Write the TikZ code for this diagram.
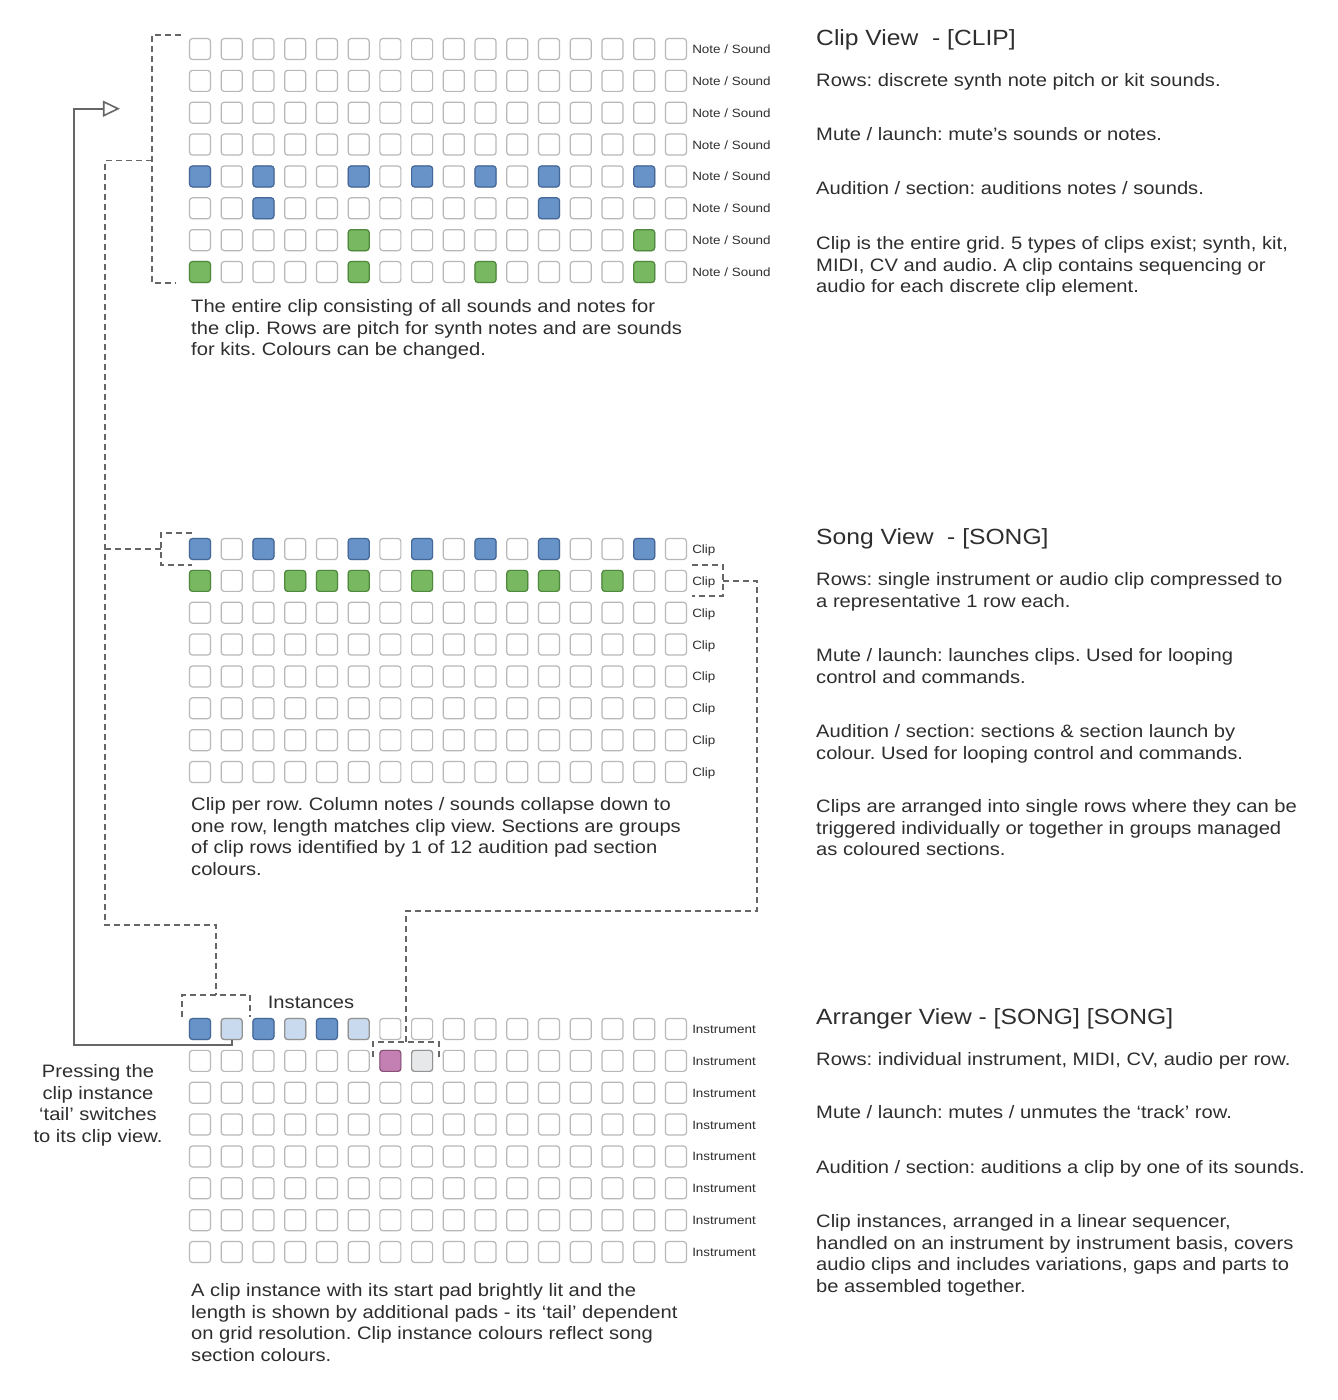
\documentclass[tikz,border=0pt]{standalone}
\usepackage{fontspec}
\setmainfont{Liberation Sans}[FakeStretch=1.12]
\usetikzlibrary{arrows.meta, positioning, calc}
\usepackage{xcolor}
\definecolor{cText}{HTML}{2E2E2E}
\definecolor{cLine}{HTML}{666666}
\definecolor{cPadLine}{HTML}{B8B8B8}
\definecolor{cBlue}{HTML}{6793C9}
\definecolor{cBlueLine}{HTML}{44689A}
\definecolor{cGreen}{HTML}{78B861}
\definecolor{cGreenLine}{HTML}{4F8A3C}
\definecolor{cPale}{HTML}{C9D9EE}
\definecolor{cPink}{HTML}{C47FB3}
\definecolor{cPinkLine}{HTML}{8A5279}
\definecolor{cGrey}{HTML}{E7E8EA}
\frenchspacing

\begin{document}
\begin{tikzpicture}[x=1pt, y=-1pt,
  pad/.style={draw=cPadLine, fill=white, rounded corners=3pt,
    minimum size=21pt, inner sep=0pt, line width=1.2pt},
  padblue/.style={fill=cBlue, draw=cBlueLine},
  padgreen/.style={fill=cGreen, draw=cGreenLine},
  padpale/.style={fill=cPale, draw=cPadLine!80!black},
  padpink/.style={fill=cPink, draw=cPinkLine},
  padgrey/.style={fill=cGrey, draw=cPadLine!80!black},
  rowlbl/.style={inner sep=0pt, font=\fontsize{12}{14}\selectfont,
    text=cText, text height=9pt, text depth=0pt},
  txt/.style={anchor=base west, align=left, inner sep=0pt,
    font=\fontsize{18}{21.6}\selectfont, text=cText},
  head/.style={anchor=base west, inner sep=0pt,
    font=\fontsize{22}{26}\selectfont, text=cText},
  dashline/.style={draw=cLine, line width=1.6pt, dash pattern=on 6pt off 4pt},
  tailline/.style={draw=cLine, line width=2pt}
]
  \useasboundingbox (0,0) rectangle (1338,1400);

  % the three pad grids
  \foreach \g/\top/\lbl in {c/49/{Note / Sound}, s/549/Clip, a/1029/Instrument} {
    \foreach \r in {1,...,8} {
      \foreach \c in {1,...,16}
        \node[pad] (\g\r-\c) at ({200+(\c-1)*31.73}, {\top+(\r-1)*31.86}) {};
      \node[rowlbl, right=5pt of \g\r-16] (\g l\r) {\lbl};
    }
  }

  % lit pads
  \foreach \g/\r/\cols/\sty in {c/5/{1,3,6,8,10,12,15}/padblue, c/6/{3,12}/padblue,
      c/7/{6,15}/padgreen, c/8/{1,6,10,15}/padgreen,
      s/1/{1,3,6,8,10,12,15}/padblue, s/2/{1,4,5,6,8,11,12,14}/padgreen,
      a/1/{1,3,5}/padblue, a/1/{2,4,6}/padpale, a/2/{7}/padpink, a/2/{8}/padgrey}
    \foreach \c in \cols
      \node[pad, \sty] (\g\r-\c) at (\g\r-\c) {};

  % brackets
  \coordinate (cbr) at ([xshift=-37pt]$(c1-1.west)!.5!(c8-1.west)$);
  \coordinate (sbr) at ([xshift=-28pt]s1-1.west);
  \coordinate (sbr2) at ([xshift=31pt]sl2.west);
  \coordinate (trunk) at ([xshift=-47pt]cbr);
  \draw[dashline] ([xshift=-8pt,yshift=3pt]c1-1.north west) -| (cbr)
    |- ([xshift=-13pt]c8-1.south west);
  \draw[dashline] ([xshift=3pt,yshift=5pt]s1-1.north west) -| (sbr)
    |- ([xshift=3pt,yshift=-5pt]s1-1.south west);
  \draw[dashline] ([yshift=16pt]sl2.west) -| (sbr2) |- ([yshift=-15pt]sl2.west);
  \draw[dashline] ([xshift=-7pt,yshift=1pt]a1-1.north west)
    |- coordinate[pos=.75] (abr) ([xshift=7pt,yshift=23pt]a1-2.north east)
    -- ([xshift=7pt,yshift=1pt]a1-2.north east);
  \draw[dashline] ([xshift=-6pt,yshift=-7pt]a2-7.north west)
    |- coordinate[pos=.75] (pbr) ([xshift=6pt,yshift=8pt]a2-8.north east)
    -- ([xshift=6pt,yshift=-7pt]a2-8.north east);

  % dashed links
  \draw[dashline] (cbr) -- (trunk) |- ($(abr)+(0,-70)$) -- (abr);
  \draw[dashline] (sbr) -- (sbr -| trunk);
  \draw[dashline] (sbr2) -- ++(34,0) |- ($(pbr)+(0,-131)$) -- (pbr);

  % tail back to clip view
  \coordinate (clipin) at ([xshift=-69pt,yshift=4pt]c3-1.west);
  \draw[tailline, -{Triangle[open, length=17pt, width=16pt, line width=1.6pt]}]
    (a1-2.south) -- ++(0,4.5) -| ([xshift=-46pt]clipin) -- (clipin);

  % grid notes (base = last line)
  \node[txt] (cnote) at (191,355.7) {The entire clip consisting of all sounds and notes for\\
    the clip. Rows are pitch for synth notes and are sounds\\
    for kits. Colours can be changed.};
  \node[txt] (snote) at (191,875.3) {Clip per row. Column notes / sounds collapse down to\\
    one row, length matches clip view. Sections are groups\\
    of clip rows identified by 1 of 12 audition pad section\\
    colours.};
  \node[txt] (anote) at (191,1361.3) {A clip instance with its start pad brightly lit and the\\
    length is shown by additional pads - its ‘tail’ dependent\\
    on grid resolution. Clip instance colours reflect song\\
    section colours.};
  \node[txt, anchor=base] (inst) at (311,1008.5) {Instances};
  \node[txt, anchor=base, align=center] (press) at (98,1142.3) {Pressing the\\
    clip instance\\ ‘tail’ switches\\ to its clip view.};

  % clip view text
  \node[head] (chead) at (816,45) {Clip View~ - [CLIP]};
  \node[txt] (c1) at (816,86.5) {Rows: discrete synth note pitch or kit sounds.};
  \node[txt] (c2) at (816,140.5) {Mute / launch: mute’s sounds or notes.};
  \node[txt] (c3) at (816,194.5) {Audition / section: auditions notes / sounds.};
  \node[txt] (c4) at (816,292.7) {Clip is the entire grid. 5 types of clips exist; synth, kit,\\
    MIDI, CV and audio. A clip contains sequencing or\\
    audio for each discrete clip element.};

  % song view text
  \node[head] (shead) at (816,544) {Song View~ - [SONG]};
  \node[txt] (s1) at (816,607.1) {Rows: single instrument or audio clip compressed to\\
    a representative 1 row each.};
  \node[txt] (s2) at (816,683.1) {Mute / launch: launches clips. Used for looping\\
    control and commands.};
  \node[txt] (s3) at (816,759.1) {Audition / section: sections \& section launch by\\
    colour. Used for looping control and commands.};
  \node[txt] (s4) at (816,855.7) {Clips are arranged into single rows where they can be\\
    triggered individually or together in groups managed\\
    as coloured sections.};

  % arranger view text
  \node[head] (ahead) at (816,1024) {Arranger View - [SONG] [SONG]};
  \node[txt] (a1) at (816,1065.5) {Rows: individual instrument, MIDI, CV, audio per row.};
  \node[txt] (a2) at (816,1118.5) {Mute / launch: mutes / unmutes the ‘track’ row.};
  \node[txt] (a3) at (816,1173.5) {Audition / section: auditions a clip by one of its sounds.};
  \node[txt] (a4) at (816,1292.3) {Clip instances, arranged in a linear sequencer,\\
    handled on an instrument by instrument basis, covers\\
    audio clips and includes variations, gaps and parts to\\
    be assembled together.};
\end{tikzpicture}
\end{document}
